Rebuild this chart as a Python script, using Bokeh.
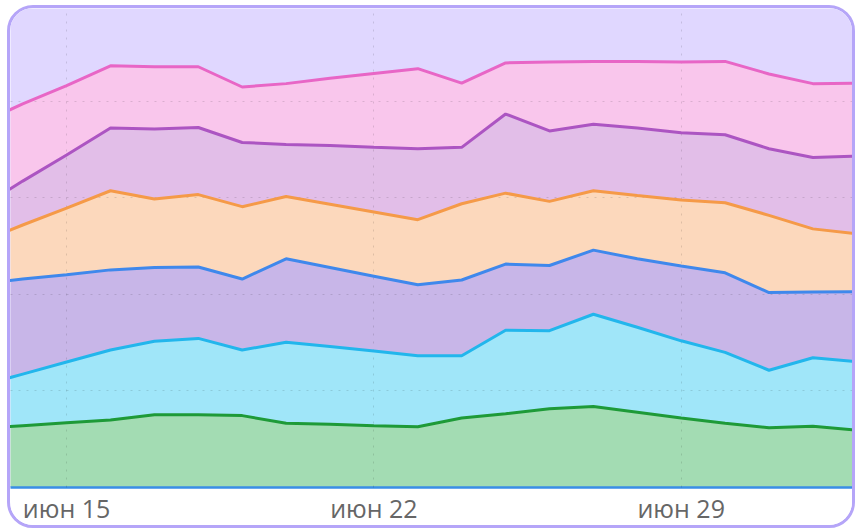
import pandas as pd
from bokeh.plotting import figure
from bokeh.models import ColumnDataSource, Range1d, FixedTicker, CustomJSTickFormatter
from bokeh.embed import file_html
from bokeh.resources import INLINE

# ---- data (daily shares, stacked bottom -> top) ----
dates = pd.date_range("2024-06-13", "2024-07-03", freq="D")
green  = [12.2, 12.8, 13.4, 14.0, 15.1, 15.1, 14.9, 13.3, 13.1, 12.8, 12.6, 14.4, 15.3, 16.3, 16.8, 15.6, 14.4, 13.3, 12.4, 12.7, 11.9]
cyan   = [8.8, 10.7, 12.6, 14.5, 15.2, 15.8, 13.6, 16.8, 16.1, 15.5, 14.7, 12.9, 17.3, 16.2, 19.1, 17.6, 16.0, 14.7, 11.9, 14.2, 14.2]
blue   = [21.2, 19.7, 18.1, 16.6, 15.3, 14.8, 14.7, 17.3, 16.4, 15.5, 14.7, 15.7, 13.7, 13.5, 13.3, 14.2, 15.5, 16.5, 16.1, 13.6, 14.5]
orange = [8.5, 11.2, 13.8, 16.4, 14.2, 15.0, 15.0, 12.9, 13.1, 13.3, 13.5, 15.8, 14.7, 13.3, 12.3, 13.1, 13.7, 14.5, 16.0, 13.1, 12.0]
purple = [7.1, 9.1, 11.0, 13.0, 14.5, 13.9, 13.3, 10.8, 12.2, 13.4, 14.7, 11.7, 16.4, 14.6, 13.8, 14.0, 13.9, 14.1, 13.8, 14.8, 16.1]
pink   = [17.5, 16.0, 14.4, 12.9, 12.9, 12.6, 11.5, 12.6, 13.9, 15.3, 16.6, 13.3, 10.6, 14.3, 13.0, 13.8, 14.7, 15.2, 15.5, 15.3, 15.1]

series_names = ["green", "cyan", "blue", "orange", "purple", "pink"]
fill_colors = ["#A3DCB3", "#A0E6F9", "#C8B6E8", "#FCD8BC", "#E2BEE8", "#F9C6EC"]
line_colors = ["#1E9A38", "#22B6EC", "#3F88EC", "#F59A48", "#AC55C2", "#E866C6"]

tick_dates = ["2024-06-15", "2024-06-22", "2024-06-29"]
month_labels = ["янв", "фев", "мар", "апр", "май", "июн", "июл", "авг", "сен", "окт", "ноя", "дек"]
y_grid_values = [20, 40, 60, 80]

source = ColumnDataSource(dict(date=dates, green=green, cyan=cyan, blue=blue,
                               orange=orange, purple=purple, pink=pink))

day_ms = 86400000
t0 = pd.Timestamp("2024-06-13").value // 10**6

p = figure(width=848, height=523, x_axis_type="datetime",
           output_backend="svg", toolbar_location=None,
           x_range=Range1d(t0 + 0.722 * day_ms, t0 + 19.902 * day_ms),
           y_range=Range1d(0, 99.27),
           min_border_left=0, min_border_right=6, min_border_top=0, min_border_bottom=44)

p.styles = {"border": "3px solid #B5A5F8", "border-radius": "26px", "overflow": "hidden",
            "background": "#ffffff", "margin-left": "7px", "margin-top": "5px"}

p.background_fill_color = "#E0D7FF"
p.border_fill_color = "#ffffff"
p.outline_line_color = None

p.varea_stack(stackers=series_names, x="date", color=fill_colors, source=source)
lines = p.vline_stack(stackers=series_names, x="date", color=line_colors,
                      line_width=3, source=source)
for r in lines:
    r.level = "overlay"

p.yaxis.visible = False
p.xaxis.ticker = FixedTicker(ticks=[pd.Timestamp(d).value // 10**6 for d in tick_dates])
p.xaxis.formatter = CustomJSTickFormatter(
    args=dict(months=month_labels),
    code="const d = new Date(tick); return months[d.getUTCMonth()] + ' ' + d.getUTCDate();")
p.xaxis.axis_line_color = "#3A8EE6"
p.xaxis.axis_line_width = 2.5
p.xaxis.major_tick_line_color = None
p.xaxis.minor_tick_line_color = None
p.xaxis.major_tick_out = 0
p.xaxis.major_tick_in = 0
p.xaxis.minor_tick_out = 0
p.xaxis.major_label_text_font = "Open Sans"
p.xaxis.major_label_text_font_size = "25px"
p.xaxis.major_label_text_color = "#666666"
p.xaxis.major_label_standoff = 3

p.ygrid.ticker = FixedTicker(ticks=y_grid_values)
for g in (p.xgrid, p.ygrid):
    g.grid_line_color = "black"
    g.grid_line_alpha = 0.12
    g.grid_line_dash = "2 6"
    g.grid_line_width = 1
    g.level = "annotation"

open("out.html", "w").write(file_html(p, INLINE))
